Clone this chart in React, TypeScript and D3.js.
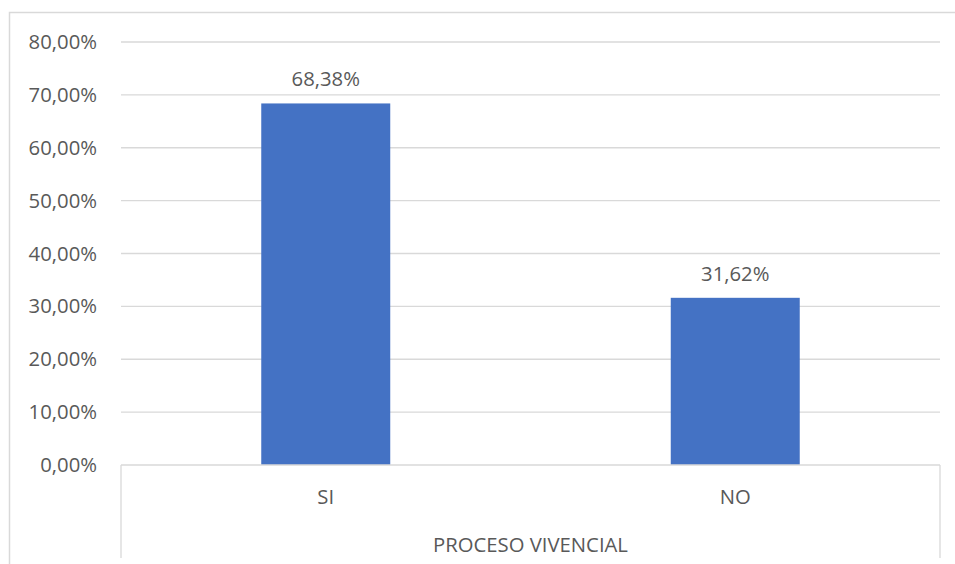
import React from "react";
import * as d3 from "d3";

const categories = ["SI", "NO"];
const values = [68.38, 31.62];
const dataLabels = ["68,38%", "31,62%"];
const yTicks = [0, 10, 20, 30, 40, 50, 60, 70, 80];
const axisTitle = "PROCESO VIVENCIAL";

const W = 955;
const H = 564;
const left = 121;
const right = 940;
const top = 42;
const bottom = 465;

export default function App() {
  const x = d3.scaleBand<string>().domain(categories).range([left, right]).paddingInner(0.685).paddingOuter(0.3425);
  const y = d3.scaleLinear().domain([0, 80]).range([bottom, top]);
  const fmt = (v: number) => v.toFixed(2).replace(".", ",") + "%";
  const font = "'Open Sans', 'Liberation Sans', sans-serif";
  const fs = 20.3;
  const grid = "#d9d9d9";
  const textColor = "#595959";
  return (
    <svg width={W} height={H} style={{ position: "absolute", left: 0, top: 0 }}>
      <rect x={0} y={0} width={W} height={H} fill="#fff" />
      <rect x={9.5} y={12.5} width={W} height={H} fill="none" stroke={grid} strokeWidth={1.5} />
      {yTicks.map((t) => (
        <g key={t}>
          {t !== 0 && <line x1={left} x2={right} y1={y(t)} y2={y(t)} stroke={grid} strokeWidth={1.3} />}
          <text x={97} y={y(t)} dy="0.35em" textAnchor="end" fontFamily={font} fontSize={fs} fill={textColor}>
            {fmt(t)}
          </text>
        </g>
      ))}
      {categories.map((c, i) => (
        <g key={c}>
          <rect x={x(c)} y={y(values[i])} width={x.bandwidth()} height={bottom - y(values[i])} fill="#4472c4" />
          <text x={x(c)! + x.bandwidth() / 2} y={y(values[i]) - 17} textAnchor="middle" fontFamily={font} fontSize={fs} fill={textColor}>
            {dataLabels[i]}
          </text>
          <text x={x(c)! + x.bandwidth() / 2} y={497} dy="0.35em" textAnchor="middle" fontFamily={font} fontSize={fs} fill={textColor}>
            {c}
          </text>
        </g>
      ))}
      <line x1={left} x2={right} y1={bottom} y2={bottom} stroke={grid} strokeWidth={1.3} />
      <line x1={left} x2={left} y1={bottom} y2={558} stroke={grid} strokeWidth={1.3} />
      <line x1={right} x2={right} y1={bottom} y2={558} stroke={grid} strokeWidth={1.3} />
      <text x={(left + right) / 2} y={545} dy="0.35em" textAnchor="middle" fontFamily={font} fontSize={fs} fill={textColor}>
        {axisTitle}
      </text>
    </svg>
  );
}
